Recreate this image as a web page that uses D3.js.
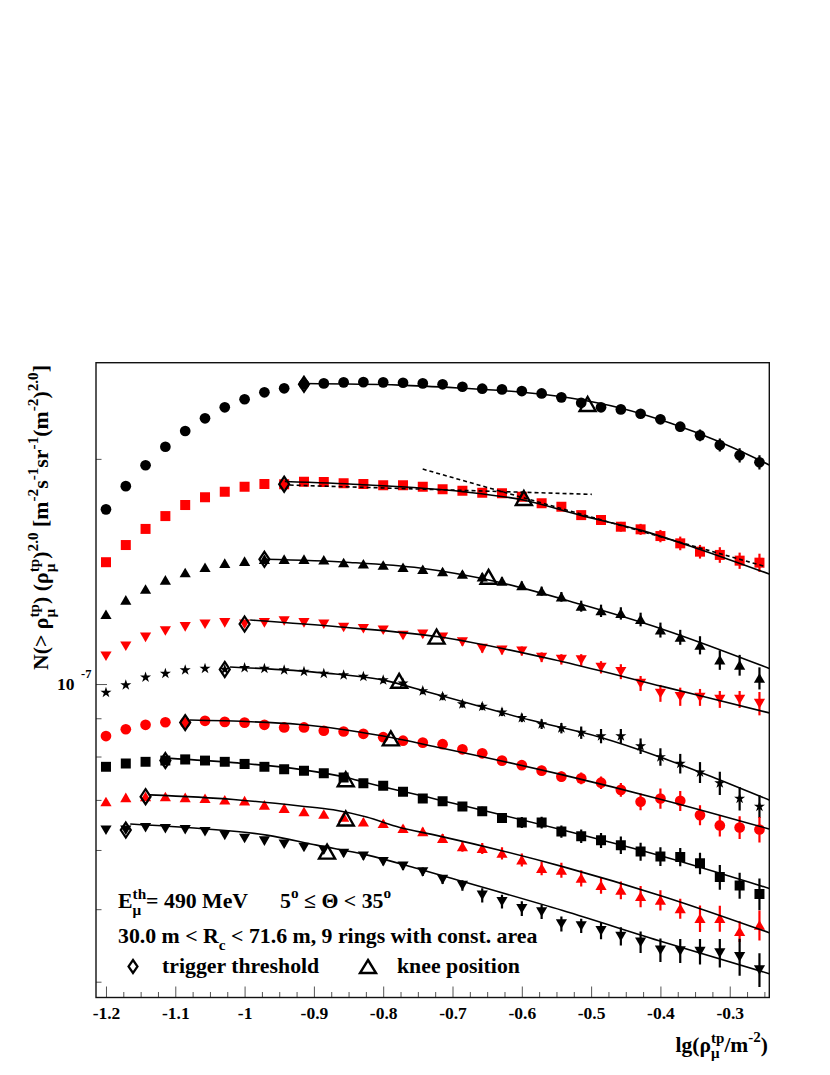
<!DOCTYPE html>
<html>
<head>
<meta charset="utf-8">
<script src="https://cdn.jsdelivr.net/npm/d3@7"></script>
<style>
	body { margin: 0; background: #fff; }
	svg text { font-family: "Liberation Serif", "Times New Roman", serif; font-weight: bold; white-space: pre; }
</style>
</head>
<body>
<svg id="fig" width="830" height="1075"></svg>
<script>
// lg(rho) bin centres, shared by all rings
const lgRho = [-1.2, -1.1714, -1.1429, -1.1143, -1.0857, -1.0571, -1.0286, -1.0, -0.9714, -0.9429,
	-0.9143, -0.8857, -0.8571, -0.8286, -0.8, -0.7714, -0.7429, -0.7143, -0.6857, -0.6571,
	-0.6286, -0.6, -0.5714, -0.5429, -0.5143, -0.4857, -0.4571, -0.4286, -0.4, -0.3714,
	-0.3429, -0.3143, -0.2857, -0.2571];

// N(>rho) rho^2 in units of 1e-7, one array per ring (top to bottom)
const ring1 = [1.712, 1.839, 1.961, 2.076, 2.179, 2.266, 2.344, 2.403, 2.455, 2.485, 2.516, 2.523, 2.531, 2.533, 2.531, 2.528, 2.523, 2.516, 2.497, 2.482, 2.477, 2.464, 2.446, 2.417, 2.377, 2.344, 2.329, 2.298, 2.259, 2.208, 2.150, 2.087, 2.022, 1.979];
const ring2 = [1.455, 1.534, 1.612, 1.677, 1.735, 1.777, 1.808, 1.836, 1.851, 1.850, 1.864, 1.862, 1.855, 1.851, 1.844, 1.844, 1.836, 1.821, 1.813, 1.802, 1.799, 1.780, 1.744, 1.726, 1.682, 1.657, 1.623, 1.610, 1.577, 1.542, 1.503, 1.488, 1.462, 1.453];
const ring3 = [1.239, 1.295, 1.339, 1.377, 1.409, 1.432, 1.450, 1.459, 1.468, 1.468, 1.468, 1.465, 1.453, 1.447, 1.442, 1.432, 1.423, 1.413, 1.402, 1.391, 1.373, 1.354, 1.331, 1.308, 1.271, 1.253, 1.243, 1.220, 1.181, 1.155, 1.127, 1.077, 1.060, 1.018];
const ring4 = [1.090, 1.124, 1.155, 1.178, 1.193, 1.203, 1.208, 1.203, 1.208, 1.215, 1.208, 1.203, 1.191, 1.186, 1.181, 1.162, 1.166, 1.155, 1.139, 1.116, 1.110, 1.107, 1.086, 1.079, 1.077, 1.053, 1.039, 1.002, 0.972, 0.962, 0.960, 0.954, 0.954, 0.942];
const ring5 = [0.974, 0.997, 1.021, 1.033, 1.044, 1.049, 1.046, 1.051, 1.049, 1.044, 1.039, 1.033, 1.028, 1.023, 1.012, 1.002, 0.979, 0.962, 0.940, 0.933, 0.917, 0.901, 0.884, 0.873, 0.861, 0.852, 0.852, 0.826, 0.799, 0.783, 0.762, 0.737, 0.703, 0.686];
const ring6 = [0.852, 0.870, 0.882, 0.889, 0.888, 0.893, 0.890, 0.888, 0.882, 0.875, 0.875, 0.866, 0.864, 0.858, 0.849, 0.840, 0.835, 0.831, 0.818, 0.808, 0.790, 0.779, 0.766, 0.752, 0.748, 0.738, 0.722, 0.696, 0.703, 0.698, 0.668, 0.647, 0.643, 0.639];
const ring7 = [0.775, 0.783, 0.787, 0.790, 0.793, 0.790, 0.787, 0.782, 0.775, 0.769, 0.766, 0.760, 0.750, 0.737, 0.731, 0.718, 0.703, 0.697, 0.686, 0.676, 0.662, 0.653, 0.653, 0.635, 0.626, 0.618, 0.609, 0.597, 0.588, 0.587, 0.576, 0.552, 0.538, 0.524];
const ring8 = [0.696, 0.705, 0.707, 0.707, 0.705, 0.703, 0.700, 0.698, 0.689, 0.682, 0.675, 0.670, 0.664, 0.654, 0.651, 0.641, 0.635, 0.622, 0.606, 0.603, 0.594, 0.582, 0.567, 0.564, 0.550, 0.538, 0.530, 0.520, 0.514, 0.501, 0.486, 0.486, 0.467, 0.476];
const ring9 = [0.638, 0.638, 0.643, 0.641, 0.639, 0.635, 0.628, 0.622, 0.617, 0.611, 0.605, 0.600, 0.594, 0.589, 0.579, 0.571, 0.561, 0.548, 0.538, 0.522, 0.512, 0.501, 0.496, 0.478, 0.475, 0.468, 0.460, 0.452, 0.441, 0.440, 0.439, 0.437, 0.432, 0.415];

// relative errors in percent
const err1 = [0.3, 0.3, 0.3, 0.3, 0.3, 0.3, 0.3, 0.3, 0.3, 0.3, 0.3, 0.3, 0.3, 0.3, 0.3, 0.3, 0.3, 0.3, 0.3, 0.3, 0.5, 0.6, 0.7, 0.8, 0.9, 1.0, 1.1, 1.2, 1.4, 1.5, 1.8, 2.0, 2.2, 2.2];
const err2 = [0.4, 0.4, 0.4, 0.4, 0.4, 0.4, 0.4, 0.4, 0.4, 0.4, 0.5, 0.5, 0.5, 0.5, 0.5, 0.6, 0.6, 0.7, 0.7, 0.8, 0.8, 0.9, 1.0, 1.1, 1.2, 1.3, 1.5, 1.7, 1.9, 2.1, 2.1, 2.4, 2.5, 2.8];
const err3 = [0.4, 0.4, 0.4, 0.4, 0.4, 0.4, 0.4, 0.4, 0.4, 0.4, 0.5, 0.5, 0.6, 0.6, 0.7, 0.8, 0.8, 0.9, 1.0, 1.1, 1.2, 1.3, 1.4, 1.5, 1.7, 1.9, 1.9, 2.1, 2.3, 2.3, 2.8, 3.0, 3.2, 3.4];
const err4 = [0.4, 0.4, 0.4, 0.4, 0.4, 0.4, 0.4, 0.4, 0.4, 0.4, 0.5, 0.6, 0.7, 0.8, 0.9, 1.0, 1.0, 1.1, 1.2, 1.3, 1.3, 1.4, 1.5, 1.6, 1.8, 1.9, 2.3, 2.3, 2.6, 2.8, 2.6, 2.6, 2.6, 3.6];
const err5 = [0.4, 0.4, 0.4, 0.4, 0.4, 0.4, 0.4, 0.4, 0.4, 0.4, 0.5, 0.6, 0.7, 0.8, 0.9, 0.9, 1.0, 1.1, 1.1, 1.1, 1.2, 1.3, 1.5, 1.6, 1.9, 2.2, 2.2, 2.4, 2.7, 3.0, 3.2, 3.6, 3.6, 3.5];
const err6 = [0.4, 0.4, 0.4, 0.4, 0.4, 0.4, 0.4, 0.4, 0.4, 0.4, 0.5, 0.6, 0.7, 0.8, 0.9, 0.9, 1.0, 1.0, 1.1, 1.1, 1.2, 1.4, 1.5, 1.6, 1.8, 1.9, 2.1, 2.6, 3.1, 3.1, 3.1, 3.3, 3.5, 3.9];
const err7 = [0.4, 0.4, 0.4, 0.4, 0.4, 0.4, 0.4, 0.4, 0.5, 0.6, 0.7, 0.8, 0.9, 1.0, 1.0, 1.1, 1.1, 1.2, 1.3, 1.4, 1.5, 1.7, 1.8, 1.9, 2.1, 2.3, 2.7, 2.8, 2.9, 2.8, 3.3, 3.8, 4.0, 4.9];
const err8 = [0.4, 0.4, 0.4, 0.4, 0.4, 0.4, 0.4, 0.4, 0.5, 0.6, 0.7, 0.8, 0.9, 1.0, 1.1, 1.1, 1.2, 1.3, 1.5, 1.7, 1.9, 2.0, 2.1, 2.3, 2.5, 2.5, 2.7, 3.3, 3.1, 3.1, 4.1, 4.0, 3.2, 4.6];
const err9 = [0.4, 0.4, 0.4, 0.4, 0.4, 0.4, 0.5, 0.6, 0.7, 0.8, 0.9, 1.0, 1.0, 1.1, 1.1, 1.2, 1.3, 1.4, 1.6, 2.2, 2.1, 2.3, 2.2, 2.3, 2.2, 2.6, 2.8, 3.3, 3.6, 3.7, 3.9, 4.4, 5.7, 5.2];

// fitted curves (broken power law)
const fit1X = [-0.915, -0.776, -0.689, -0.603, -0.530, -0.458, -0.386, -0.314, -0.243];
const fit1Y = [2.522, 2.510, 2.487, 2.457, 2.412, 2.339, 2.233, 2.106, 1.963];
const fit2X = [-0.942, -0.834, -0.685, -0.598, -0.516, -0.429, -0.347, -0.243];
const fit2Y = [1.865, 1.848, 1.808, 1.762, 1.682, 1.606, 1.518, 1.403];
const fit3X = [-0.972, -0.848, -0.747, -0.636, -0.516, -0.396, -0.243];
const fit3Y = [1.468, 1.454, 1.429, 1.370, 1.279, 1.183, 1.049];
const fit4X = [-0.992, -0.862, -0.718, -0.541, -0.396, -0.243];
const fit4Y = [1.218, 1.192, 1.156, 1.071, 0.992, 0.915];
const fit5X = [-1.021, -0.887, -0.800, -0.733, -0.588, -0.487, -0.401, -0.314, -0.243];
const fit5Y = [1.054, 1.035, 1.012, 0.974, 0.895, 0.849, 0.799, 0.744, 0.700];
const fit6X = [-1.079, -0.920, -0.800, -0.718, -0.541, -0.396, -0.243];
const fit6Y = [0.895, 0.883, 0.852, 0.822, 0.756, 0.700, 0.640];
const fit7X = [-1.112, -1.016, -0.920, -0.853, -0.824, -0.728, -0.541, -0.396, -0.243];
const fit7Y = [0.796, 0.785, 0.769, 0.750, 0.738, 0.703, 0.638, 0.588, 0.533];
const fit8X = [-1.137, -1.016, -0.920, -0.872, -0.824, -0.776, -0.728, -0.541, -0.396, -0.243];
const fit8Y = [0.711, 0.701, 0.687, 0.679, 0.664, 0.643, 0.629, 0.570, 0.520, 0.465];
const fit9X = [-1.165, -1.064, -0.968, -0.896, -0.824, -0.752, -0.708, -0.541, -0.396, -0.243];
const fit9Y = [0.650, 0.641, 0.628, 0.609, 0.591, 0.567, 0.552, 0.498, 0.452, 0.410];

// the two single power laws shown (dashed) for ring 2
const dashLowX = [-0.935, -0.499];
const dashLowY = [1.845, 1.793];
const dashHighX = [-0.743, -0.249];
const dashHighY = [1.938, 1.436];

// trigger threshold (index of bin) and knee position per ring
const trigIdx = [10, 9, 8, 7, 6, 4, 3, 2, 1];
const kneeX = [-0.505, -0.597, -0.648, -0.723, -0.777, -0.789, -0.854, -0.854, -0.881];
const kneeY = [2.368, 1.773, 1.391, 1.157, 1.010, 0.846, 0.746, 0.661, 0.597];

const xTickVals = [-1.2, -1.1, -1.0, -0.9, -0.8, -0.7, -0.6, -0.5, -0.4, -0.3];
const xTickLabels = ["-1.2", "-1.1", "-1", "-0.9", "-0.8", "-0.7", "-0.6", "-0.5", "-0.4", "-0.3"];
const yMinorVals = [4e-8, 5e-8, 6e-8, 7e-8, 8e-8, 9e-8, 2e-7];
const yUnit = 1e-7;

const rings = [ring1, ring2, ring3, ring4, ring5, ring6, ring7, ring8, ring9];
const errs = [err1, err2, err3, err4, err5, err6, err7, err8, err9];
const fitsX = [fit1X, fit2X, fit3X, fit4X, fit5X, fit6X, fit7X, fit8X, fit9X];
const fitsY = [fit1Y, fit2Y, fit3Y, fit4Y, fit5Y, fit6Y, fit7Y, fit8Y, fit9Y];
const colors = ['#000', '#f00', '#000', '#f00', '#000', '#f00', '#000', '#f00', '#000'];
const shapes = ['circle', 'square', 'triUp', 'triDown', 'star', 'circle', 'square', 'triUp', 'triDown'];

// marker paths, centred on 0,0
const markerPath = {
	circle: d3.symbol(d3.symbolCircle, 90)(),
	square: d3.symbol(d3.symbolSquare, 100)(),
	star: d3.symbol(d3.symbolStar, 38)(),
	triUp: 'M0,-5L5.6,4.6L-5.6,4.6Z',
	triDown: 'M0,5L5.6,-4.6L-5.6,-4.6Z'
};
const diamondPath = (w, h) => `M0,${-h/2}L${w/2},0L0,${h/2}L${-w/2},0Z`;
const trianglePath = (w, h) => `M0,${-h/2}L${w/2},${h/2}L${-w/2},${h/2}Z`;

const svg = d3.select('#fig');
const frame = { left: 96, right: 769.3, top: 362.7, bottom: 997.5 };

const x = d3.scaleLinear().domain([-1.2144, -0.2429]).range([frame.left, frame.right]);
const y = d3.scaleLog().domain([3.81e-8, 2.689e-7]).range([frame.bottom, frame.top]);

// text with ROOT-like sub/superscripts (stacked when both given)
function richText(g, parts, size) {
	const t = g.append('text').attr('font-size', size);
	let cur = 0, extra = 0;
	const small = size * 0.7;
	const put = (s, off, fs, dx) => {
		const sp = t.append('tspan').text(s).attr('font-size', fs).attr('dy', off - cur);
		const shift = (dx || 0) + extra;
		if (shift) sp.attr('dx', shift);
		extra = 0;
		cur = off;
		return sp;
	};
	parts.forEach(p => {
		if (typeof p === 'string') {
			put(p, 0, size);
		} else if (p.sup && p.sub) {
			const a = put(p.sup, -0.42 * size, small);
			const wa = a.node().getComputedTextLength();
			const b = put(p.sub, 0.3 * size, small, -wa);
			const wb = b.node().getComputedTextLength();
			if (wa > wb) extra = wa - wb;
		} else if (p.sup) {
			put(p.sup, -0.45 * size, small);
		} else if (p.sub) {
			put(p.sub, 0.3 * size, small);
		}
	});
	return t;
}

// clip for curves and points
svg.append('clipPath').attr('id', 'plot-clip')
	.append('rect')
	.attr('x', frame.left).attr('y', frame.top)
	.attr('width', frame.right - frame.left).attr('height', frame.bottom - frame.top);

// axes
const xMinor = d3.range(-1.2, -0.24, 0.025).filter(v => Math.abs(Math.round(v * 10) - v * 10) > 0.01);
const gxMinor = svg.append('g').attr('transform', `translate(0,${frame.bottom})`)
	.call(d3.axisBottom(x).tickValues(xMinor).tickSizeInner(-5.5).tickSizeOuter(0).tickFormat(''));
const gx = svg.append('g').attr('transform', `translate(0,${frame.bottom})`)
	.call(d3.axisBottom(x).tickValues(xTickVals).tickSizeInner(-11).tickSizeOuter(0)
		.tickFormat((d, i) => xTickLabels[i]));
gx.selectAll('text').attr('y', 21).attr('dy', null).attr('font-size', 17.5).attr('fill', '#000');

const gyMinor = svg.append('g').attr('transform', `translate(${frame.left},0)`)
	.call(d3.axisLeft(y).tickValues(yMinorVals).tickSizeInner(-5.5).tickSizeOuter(0).tickFormat(''));
const gy = svg.append('g').attr('transform', `translate(${frame.left},0)`)
	.call(d3.axisLeft(y).tickValues([yUnit]).tickSizeInner(-11).tickSizeOuter(0).tickFormat(''));

[gxMinor, gx, gyMinor, gy].forEach(g => {
	g.select('.domain').remove();
	g.selectAll('line').attr('stroke', '#555').attr('stroke-width', 1);
});

// 10^-7 label
const yLab = svg.append('g');
yLab.append('text').attr('x', 57).attr('y', y(yUnit) + 6).attr('font-size', 17.5).text('10');
yLab.append('text').attr('x', 81).attr('y', y(yUnit) - 6.5).attr('font-size', 12.5).text('-7');

// frame
svg.append('rect')
	.attr('x', frame.left).attr('y', frame.top)
	.attr('width', frame.right - frame.left).attr('height', frame.bottom - frame.top)
	.attr('fill', 'none').attr('stroke', '#111').attr('stroke-width', 1.4);

const plot = svg.append('g').attr('clip-path', 'url(#plot-clip)');

// error bars
rings.forEach((ring, k) => {
	plot.append('g').selectAll('line')
		.data(ring.map((v, i) => ({ x: lgRho[i], v: v, e: errs[k][i] })))
		.enter().append('line')
		.attr('x1', d => x(d.x)).attr('x2', d => x(d.x))
		.attr('y1', d => y(d.v * yUnit * (1 + d.e / 100)))
		.attr('y2', d => y(d.v * yUnit * (1 - d.e / 100)))
		.attr('stroke', colors[k]).attr('stroke-width', 2.2);
});

// markers
rings.forEach((ring, k) => {
	plot.append('g').selectAll('path')
		.data(ring.map((v, i) => ({ x: lgRho[i], v: v })))
		.enter().append('path')
		.attr('d', markerPath[shapes[k]])
		.attr('transform', d => `translate(${x(d.x)},${y(d.v * yUnit)})`)
		.attr('fill', colors[k]);
});

// fitted curves
const line = d3.line().curve(d3.curveMonotoneX);
fitsX.forEach((fx, k) => {
	plot.append('path')
		.attr('d', line(fx.map((v, i) => [x(v), y(fitsY[k][i] * yUnit)])))
		.attr('fill', 'none').attr('stroke', '#000').attr('stroke-width', 1.6);
});

[[dashLowX, dashLowY], [dashHighX, dashHighY]].forEach(([dx, dy]) => {
	plot.append('path')
		.attr('d', d3.line()(dx.map((v, i) => [x(v), y(dy[i] * yUnit)])))
		.attr('fill', 'none').attr('stroke', '#000').attr('stroke-width', 1.6)
		.attr('stroke-dasharray', '4,3');
});

// trigger thresholds
plot.append('g').selectAll('path')
	.data(trigIdx.map((idx, k) => ({ x: lgRho[idx], v: rings[k][idx] })))
	.enter().append('path')
	.attr('d', diamondPath(10, 15))
	.attr('transform', d => `translate(${x(d.x)},${y(d.v * yUnit)})`)
	.attr('fill', 'none').attr('stroke', '#000').attr('stroke-width', 2.2);

// knee positions
plot.append('g').selectAll('path')
	.data(kneeX.map((kx, k) => ({ x: kx, v: kneeY[k] })))
	.enter().append('path')
	.attr('d', trianglePath(16, 14))
	.attr('transform', d => `translate(${x(d.x)},${y(d.v * yUnit)})`)
	.attr('fill', 'none').attr('stroke', '#000').attr('stroke-width', 2.4)
	.attr('stroke-linejoin', 'miter');

// axis titles
const yTitle = svg.append('g').attr('transform', 'translate(48,365) rotate(-90)');
richText(yTitle, ['N(> ρ', { sup: 'tp', sub: 'μ' }, ') (ρ', { sup: 'tp', sub: 'μ' }, ')', { sup: '2.0' },
	' [m', { sup: '-2' }, 's', { sup: '-1' }, 'sr', { sup: '-1' }, '(m', { sup: '-2' }, ')', { sup: '2.0' }, ']'], 21.8)
	.attr('text-anchor', 'end');

const xTitle = svg.append('g').attr('transform', 'translate(768,1052)');
richText(xTitle, ['lg(ρ', { sup: 'tp', sub: 'μ' }, '/m', { sup: '-2' }, ')'], 21.5).attr('text-anchor', 'end');

// annotations
const note = svg.append('g');
richText(note.append('g').attr('transform', 'translate(118,908)'), ['E', { sup: 'th', sub: 'μ' }, '= 490 MeV'], 21.8);
richText(note.append('g').attr('transform', 'translate(280,908)'), ['5', { sup: 'o' }, ' ≤ Θ < 35', { sup: 'o' }], 21.8);
richText(note.append('g').attr('transform', 'translate(118,943)'),
	['30.0 m < R', { sub: 'c' }, ' < 71.6 m, 9 rings with const. area'], 21.8);

note.append('path').attr('d', diamondPath(9, 13)).attr('transform', 'translate(133,966.5)')
	.attr('fill', 'none').attr('stroke', '#000').attr('stroke-width', 2.2);
richText(note.append('g').attr('transform', 'translate(162,973)'), ['trigger threshold'], 21.8);
note.append('path').attr('d', trianglePath(16, 13)).attr('transform', 'translate(368,966.5)')
	.attr('fill', 'none').attr('stroke', '#000').attr('stroke-width', 2.4);
richText(note.append('g').attr('transform', 'translate(397,973)'), ['knee position'], 21.8);
</script>
</body>
</html>
